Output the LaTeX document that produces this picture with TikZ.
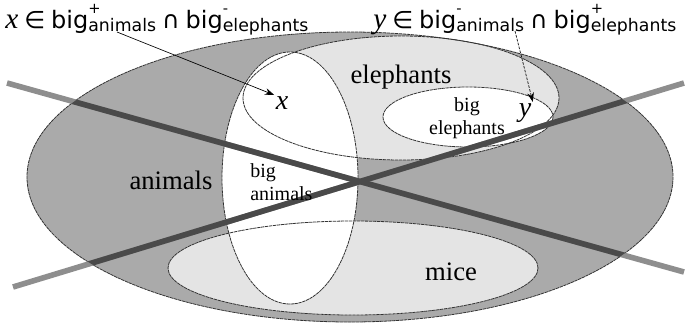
\documentclass[tikz,border=0pt]{standalone}
\usepackage{fontspec}
\setmainfont{Liberation Serif}
\newfontfamily\dv{DejaVu Sans}
\usetikzlibrary{arrows.meta}
\definecolor{outergray}{HTML}{AAAAAA}
\definecolor{lightfill}{HTML}{E4E4E4}
\definecolor{edgecol}{HTML}{333333}
\definecolor{barlight}{HTML}{8E8E8E}
\definecolor{bardark}{HTML}{4A4A4A}
\newcommand{\bigset}[2]{{\dv big}\makebox[0pt][l]{\raisebox{11pt}{\fontsize{11}{11}\selectfont\dv #1}}\raisebox{-2.5pt}{\fontsize{13}{13}\selectfont\dv #2}}
\begin{document}
\begin{tikzpicture}[x=0.75pt,y=-0.75pt,
  setedge/.style={draw=edgecol, line width=0.6pt, dash pattern=on 2.5pt off 0.5pt},
  bar/.style={line width=4.2pt},
  lbl/.style={inner sep=0pt, font=\fontsize{20}{20}\selectfont},
  smalllbl/.style={inner sep=0pt, font=\fontsize{15}{17}\selectfont},
  toplbl/.style={inner sep=0pt, anchor=base west, font=\fontsize{18}{18}\selectfont},
  pointer/.style={draw=black, line width=0.5pt, -{Stealth[length=7pt,width=5pt]}}]
\useasboundingbox (0,0) rectangle (685,326);

% fills
\path[fill=outergray] (350,177) ellipse [x radius=323, y radius=145];
\path[fill=lightfill] (401,98) ellipse [x radius=158, y radius=62];
\path[fill=lightfill] (353,268) ellipse [x radius=185, y radius=47];
\path[fill=white] (290,178) ellipse [x radius=68, y radius=126];
\path[fill=white] (468,117) ellipse [x radius=85, y radius=30];

% outlines
\path[setedge] (350,177) ellipse [x radius=323, y radius=145];
\path[setedge] (401,98) ellipse [x radius=158, y radius=62];
\path[setedge] (353,268) ellipse [x radius=185, y radius=47];
\path[setedge] (290,178) ellipse [x radius=68, y radius=126];
\path[setedge] (468,117) ellipse [x radius=85, y radius=30];

% crossing bars
\coordinate (b1s) at (7,83);
\coordinate (b1e) at (684,272);
\coordinate (b2s) at (13,287);
\coordinate (b2e) at (684,83);
\draw[bar, draw=barlight] (b1s) -- (b1e);
\draw[bar, draw=barlight] (b2s) -- (b2e);
\begin{scope}
  \clip (350,177) ellipse [x radius=323, y radius=145];
  \draw[bar, draw=bardark] (b1s) -- (b1e);
  \draw[bar, draw=bardark] (b2s) -- (b2e);
\end{scope}

% region labels
\node[lbl] (elephants) at (401,77) {elephants};
\node[lbl] (animals) at (171,180) {animals};
\node[lbl] (mice) at (451,272) {mice};
\node[smalllbl, align=left, anchor=west] (biganimals) at (250,182) {big\\animals};
\node[smalllbl, align=center] (bigeleph) at (467,118) {big\\elephants};
\node[inner sep=1pt, font=\fontsize{21}{21}\selectfont\itshape] (xel) at (282,103) {x};
\node[inner sep=1pt, font=\fontsize{21}{21}\selectfont\itshape] (yel) at (525,113) {y};

% top labels
\node[toplbl] (xlabel) at (5,28) {{\fontsize{22}{22}\selectfont\itshape x} {\dv ∈} \bigset{+}{animals} {\dv ∩} \bigset{-}{elephants}};
\node[toplbl] (ylabel) at (373,28) {{\fontsize{22}{22}\selectfont\itshape y} {\dv ∈} \bigset{-}{animals} {\dv ∩} \bigset{+}{elephants}};

% pointers
\coordinate (xstart) at (117,32);
\coordinate (ystart) at (515,31);
\draw[pointer] (xstart) -- (xel.north west);
\draw[pointer, dash pattern=on 2pt off 1pt] (ystart) -- (yel.north east);
\end{tikzpicture}
\end{document}
